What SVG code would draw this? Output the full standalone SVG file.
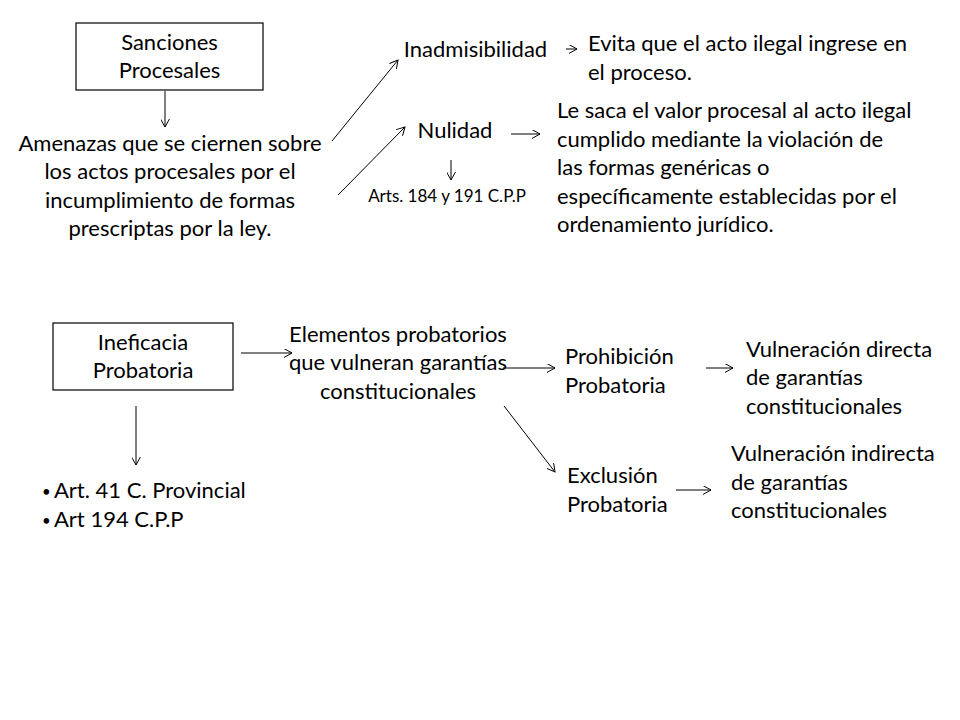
<svg xmlns="http://www.w3.org/2000/svg" width="960" height="720" viewBox="0 0 960 720">
<style>
text{font-family:Lato,"Liberation Sans",sans-serif;font-size:22px;fill:#000}
.c{text-anchor:middle}
.s{font-size:17px}
.b{font-size:15px}
.box{fill:#fff;stroke:#000;stroke-width:1.2}
.ln{stroke:#000;stroke-width:1;fill:none}
</style>
<defs>
<marker id="ah" viewBox="0 0 10 10" refX="9" refY="5" markerWidth="9" markerHeight="9" markerUnits="userSpaceOnUse" orient="auto">
<path d="M0,0 L9,5 L0,10" fill="none" stroke="#000" stroke-width="1.1"/>
</marker>
</defs>
<rect width="960" height="720" fill="#fff"/>

<g id="sanciones">
<rect class="box" x="76" y="23" width="187" height="67"/>
<text class="c" x="169.5" y="50">Sanciones</text>
<text class="c" x="169.5" y="78">Procesales</text>
</g>
<g id="amenazas">
<text class="c" x="170" y="151">Amenazas que se ciernen sobre</text>
<text class="c" x="170" y="179">los actos procesales por el</text>
<text class="c" x="170" y="208">incumplimiento de formas</text>
<text class="c" x="170" y="236">prescriptas por la ley.</text>
</g>
<g id="inadmisibilidad">
<text class="c" x="475.5" y="57">Inadmisibilidad</text>
</g>
<g id="evita">
<text x="588" y="51">Evita que el acto ilegal ingrese en</text>
<text x="588" y="80">el proceso.</text>
</g>
<g id="nulidad">
<text class="c" x="455" y="138">Nulidad</text>
</g>
<g id="arts">
<text class="c s" x="447" y="202">Arts. 184 y 191 C.P.P</text>
</g>
<g id="lesaca">
<text x="557" y="118">Le saca el valor procesal al acto ilegal</text>
<text x="557" y="147">cumplido mediante la violación de</text>
<text x="557" y="175">las formas genéricas o</text>
<text x="557" y="204">específicamente establecidas por el</text>
<text x="557" y="232">ordenamiento jurídico.</text>
</g>

<g id="ineficacia">
<rect class="box" x="53" y="323" width="180" height="67"/>
<text class="c" x="143" y="350">Ineficacia</text>
<text class="c" x="143" y="378">Probatoria</text>
</g>
<g id="articulos">
<text class="b" x="42" y="497">•</text>
<text x="54" y="498">Art. 41 C. Provincial</text>
<text class="b" x="42" y="526">•</text>
<text x="54" y="527">Art 194 C.P.P</text>
</g>
<g id="elementos">
<text class="c" x="398" y="342">Elementos probatorios</text>
<text class="c" x="398" y="370">que vulneran garantías</text>
<text class="c" x="398" y="399">constitucionales</text>
</g>
<g id="prohibicion">
<text x="565" y="364">Prohibición</text>
<text x="565" y="393">Probatoria</text>
</g>
<g id="directa">
<text x="746" y="357">Vulneración directa</text>
<text x="746" y="385">de garantías</text>
<text x="746" y="414">constitucionales</text>
</g>
<g id="exclusion">
<text x="567" y="483">Exclusión</text>
<text x="567" y="512">Probatoria</text>
</g>
<g id="indirecta">
<text x="731" y="461">Vulneración indirecta</text>
<text x="731" y="490">de garantías</text>
<text x="731" y="518">constitucionales</text>
</g>

<g id="connectors">
<line class="ln" x1="165" y1="91" x2="165" y2="127" marker-end="url(#ah)"/>
<line class="ln" x1="332" y1="141" x2="398" y2="60" marker-end="url(#ah)"/>
<line class="ln" x1="338" y1="195" x2="405" y2="127" marker-end="url(#ah)"/>
<line class="ln" x1="566" y1="49" x2="577" y2="49" marker-end="url(#ah)"/>
<line class="ln" x1="511" y1="134" x2="540" y2="134" marker-end="url(#ah)"/>
<line class="ln" x1="451" y1="160" x2="451" y2="180" marker-end="url(#ah)"/>
<line class="ln" x1="241" y1="353" x2="292" y2="353" marker-end="url(#ah)"/>
<line class="ln" x1="136" y1="406" x2="136" y2="465" marker-end="url(#ah)"/>
<line class="ln" x1="503" y1="368" x2="555" y2="368" marker-end="url(#ah)"/>
<line class="ln" x1="504" y1="406" x2="555" y2="472" marker-end="url(#ah)"/>
<line class="ln" x1="706" y1="368" x2="733" y2="368" marker-end="url(#ah)"/>
<line class="ln" x1="676" y1="490" x2="711" y2="490" marker-end="url(#ah)"/>
</g>
</svg>
